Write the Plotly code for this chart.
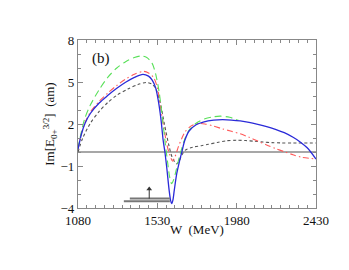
import plotly.graph_objects as go

# ---- data ----
W_blue = [1080, 1100, 1120, 1150, 1200, 1250, 1300, 1350, 1400, 1448, 1480, 1500, 1520, 1535, 1550,
          1563, 1573, 1583, 1597, 1605, 1611, 1618, 1626, 1640, 1655, 1670, 1685, 1710, 1750, 1790,
          1850, 1900, 1950, 2000, 2050, 2100, 2150, 2200, 2250, 2300, 2340, 2380, 2430]
V_blue = [0.2, 1.3, 2.05, 2.75, 3.5, 4.05, 4.55, 4.98, 5.33, 5.55, 5.42, 5.15, 4.6, 3.7, 2.4,
          0.84, 0.0, -1.07, -2.74, -3.45, -3.69, -3.45, -2.74, -1.55, -0.7, 0.05, 0.8, 1.5, 1.95, 2.14,
          2.28, 2.31, 2.28, 2.22, 2.12, 1.98, 1.82, 1.62, 1.38, 1.05, 0.72, 0.3, -0.5]

W_red = [1080, 1100, 1120, 1150, 1200, 1250, 1300, 1350, 1400, 1450, 1480, 1510, 1530, 1554, 1583,
         1600, 1617, 1630, 1650, 1668, 1687, 1720, 1760, 1800, 1850, 1900, 1950, 2000, 2050, 2100,
         2150, 2200, 2250, 2300, 2350, 2430]
V_red = [0.2, 1.35, 2.1, 2.85, 3.62, 4.22, 4.75, 5.2, 5.55, 5.76, 5.65, 5.3, 4.6, 2.74, 0.6,
         -0.2, -0.65, -0.35, 0.4, 0.95, 1.43, 1.85, 2.03, 2.0, 1.85, 1.65, 1.48, 1.3, 1.05, 0.78,
         0.5, 0.25, 0.02, -0.2, -0.38, -0.5]

W_green = [1080, 1100, 1120, 1150, 1200, 1250, 1300, 1350, 1400, 1438, 1470, 1500, 1520, 1540, 1560,
           1575, 1590, 1600, 1611, 1622, 1635, 1650, 1665, 1685, 1710, 1750, 1800, 1850, 1890, 1940, 1990]
V_green = [0.25, 1.5, 2.45, 3.35, 4.45, 5.35, 6.0, 6.45, 6.75, 6.86, 6.75, 6.35, 5.6, 4.3, 2.3,
           0.6, -0.9, -1.8, -2.26, -2.0, -1.4, -0.6, 0.1, 0.9, 1.55, 2.05, 2.38, 2.52, 2.56, 2.48, 2.26]

W_black = [1080, 1107, 1150, 1200, 1250, 1300, 1363, 1420, 1467, 1500, 1520, 1545, 1570, 1595, 1615,
           1640, 1655, 1670, 1687, 1720, 1743, 1780, 1819, 1870, 1920, 1980, 2030, 2080, 2130, 2180,
           2230, 2300, 2430]
V_black = [0.0, 1.0, 2.05, 2.9, 3.55, 4.05, 4.5, 4.82, 4.96, 4.85, 4.55, 3.6, 2.0, 0.5, -0.4,
           -0.85, -0.6, -0.2, 0.12, 0.3, 0.38, 0.45, 0.55, 0.68, 0.8, 0.84, 0.82, 0.77, 0.71, 0.67,
           0.65, 0.64, 0.64]

# resonance bars and arrow
bar_lower_W = [1340, 1601]
bar_lower_V = [-3.52, -3.52]
bar_upper_W = [1374, 1601]
bar_upper_V = [-3.33, -3.33]
arrow_W = [1484, 1484]
arrow_V = [-3.33, -2.65]

x_ticks = [1080, 1530, 1980, 2430]
y_ticks = [-4, -1, 2, 5, 8]

FONT = "Liberation Serif"
SMOOTH = 0.8

fig = go.Figure()

fig.add_trace(go.Scatter(x=[1080, 2430], y=[0, 0], mode="lines",
                         line=dict(color="#8a8a8a", width=1.3), hoverinfo="skip"))
fig.add_trace(go.Scatter(x=W_black, y=V_black, mode="lines",
                         line=dict(color="#555555", width=1.1, dash="3px,2.5px", shape="spline", smoothing=SMOOTH)))
fig.add_trace(go.Scatter(x=W_red, y=V_red, mode="lines",
                         line=dict(color="#ff5a5a", width=1.1, dash="6px,3px,1.5px,3px", shape="spline", smoothing=SMOOTH)))
fig.add_trace(go.Scatter(x=W_green, y=V_green, mode="lines",
                         line=dict(color="#5ae05a", width=1.1, dash="7px,4px", shape="spline", smoothing=SMOOTH)))
fig.add_trace(go.Scatter(x=W_blue, y=V_blue, mode="lines",
                         line=dict(color="#2a2ad8", width=1.3, shape="spline", smoothing=SMOOTH)))

fig.add_trace(go.Scatter(x=bar_lower_W, y=bar_lower_V, mode="lines",
                         line=dict(color="#777777", width=2)))
fig.add_trace(go.Scatter(x=bar_upper_W, y=bar_upper_V, mode="lines",
                         line=dict(color="#777777", width=2)))
fig.add_trace(go.Scatter(x=arrow_W, y=arrow_V, mode="lines",
                         line=dict(color="#333333", width=1)))
fig.add_trace(go.Scatter(x=arrow_W[1:], y=arrow_V[1:], mode="markers",
                         marker=dict(symbol="triangle-up", size=5, color="#333333")))

axis_common = dict(showline=True, linecolor="#888888", linewidth=1.3, mirror="ticks",
                   ticks="inside", tickcolor="#888888", tickwidth=1, ticklen=5,
                   showgrid=False, zeroline=False, automargin=False,
                   tickfont=dict(family=FONT, size=13, color="#111111"))

# page body has an 8px default margin, so the figure is offset by (8, 8)
fig.update_layout(
    width=349, height=270,
    margin=dict(l=70, r=41, t=32, b=70),
    paper_bgcolor="white", plot_bgcolor="white",
    showlegend=False,
    xaxis=dict(range=[1080, 2430], tickvals=x_ticks,
               minor=dict(ticks="inside", ticklen=2.5, dtick=50, tick0=1080, tickcolor="#888888", showgrid=False),
               **axis_common),
    yaxis=dict(range=[-4, 8], tickvals=y_ticks,
               minor=dict(ticks="inside", ticklen=2.5, dtick=1, tick0=-4, tickcolor="#888888", showgrid=False),
               title=dict(text="Im[E<sub>0+</sub><sup>3/2</sup>]  (am)",
                          font=dict(family=FONT, size=13, color="#111111"), standoff=2),
               **axis_common),
    annotations=[
        dict(text="(b)", x=0.096, y=0.891, xref="paper", yref="paper",
             xanchor="center", yanchor="middle",
             showarrow=False, font=dict(family=FONT, size=15, color="#111111")),
        dict(text="W  (MeV)", x=0.5, y=-0.128, xref="paper", yref="paper",
             xanchor="center", yanchor="middle",
             showarrow=False, font=dict(family=FONT, size=13, color="#111111")),
    ],
)

fig.write_html("out.html")
